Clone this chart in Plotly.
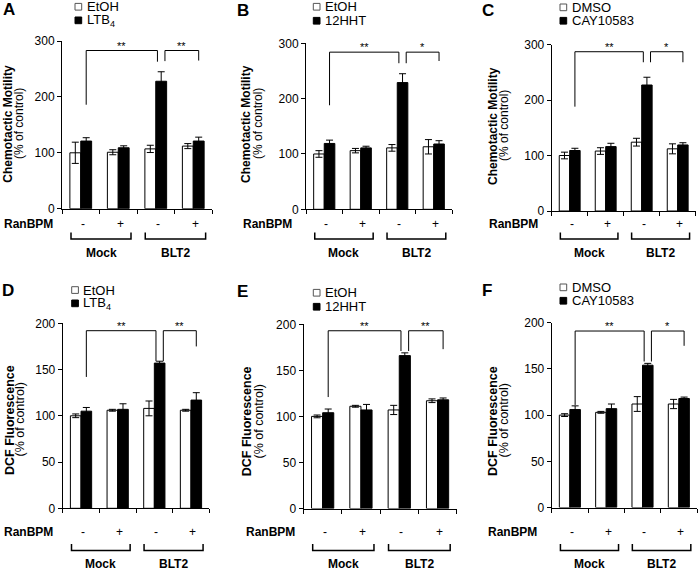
import plotly.graph_objects as go

W, H = 700, 569

# ---------------- data ----------------
groups = [1, 2, 3, 4]
ranbpm_labels = ["-", "+", "-", "+"]
cell_labels = ["Mock", "BLT2"]
panel_letters = ["A", "B", "C", "D", "E", "F"]
vehicle_names = ["EtOH", "EtOH", "DMSO", "EtOH", "EtOH", "DMSO"]
agonist_names = ["LTB<sub>4</sub>", "12HHT", "CAY10583", "LTB<sub>4</sub>", "12HHT", "CAY10583"]
y_titles = ["Chemotactic Motility"] * 3 + ["DCF Fluorescence"] * 3
y_subtitle = "(% of control)"
y_ticks_motility = [0, 100, 200, 300]
y_ticks_dcf = [0, 50, 100, 150, 200]

veh_A = [100, 101, 107, 112]
veh_A_err = [19, 4.5, 6.5, 4.5]
ago_A = [121, 109, 228, 121]
ago_A_err = [6, 3.5, 17, 7]

veh_B = [100, 106, 111, 113]
veh_B_err = [6, 4, 6, 13]
ago_B = [119, 111, 229, 118]
ago_B_err = [6, 3, 16, 6]

veh_C = [100, 108, 124, 112]
veh_C_err = [6, 6, 7, 9]
ago_C = [109, 116, 227, 119]
ago_C_err = [4, 6, 14, 4]

veh_D = [100, 106, 108, 106]
veh_D_err = [2, 1, 8, 1]
ago_D = [105, 107, 157, 117]
ago_D_err = [4, 6, 2, 8]

veh_E = [100, 111, 107, 117]
veh_E_err = [1.5, 1, 5, 2]
ago_E = [104, 107, 166, 118]
ago_E_err = [4, 6, 3, 2]

veh_F = [100, 103, 112, 112]
veh_F_err = [1.5, 1, 8, 5]
ago_F = [106, 107, 154, 118]
ago_F_err = [4, 5, 2, 1.5]

# significance brackets: [top, left-leg end, right-leg end]
sig_from = [1, 3]
sig_to = [3, 4]
sig_A = [[283, 186, 263], [283, 264, 265]]
sig_B = [[284, 188, 264], [284, 264, 268]]
sig_C = [[287, 188, 268], [287, 268, 268]]
sig_D = [[192, 142, 159], [192, 159, 175]]
sig_E = [[193, 121, 171], [193, 171, 173]]
sig_F = [[191, 111, 158], [191, 158, 175]]
sig_lab_A = ["**", "**"]
sig_lab_B = ["**", "*"]
sig_lab_C = ["**", "*"]
sig_lab_D = ["**", "**"]
sig_lab_E = ["**", "**"]
sig_lab_F = ["**", "*"]

veh_all = [veh_A, veh_B, veh_C, veh_D, veh_E, veh_F]
veh_err_all = [veh_A_err, veh_B_err, veh_C_err, veh_D_err, veh_E_err, veh_F_err]
ago_all = [ago_A, ago_B, ago_C, ago_D, ago_E, ago_F]
ago_err_all = [ago_A_err, ago_B_err, ago_C_err, ago_D_err, ago_E_err, ago_F_err]
sig_all = [sig_A, sig_B, sig_C, sig_D, sig_E, sig_F]
sig_lab_all = [sig_lab_A, sig_lab_B, sig_lab_C, sig_lab_D, sig_lab_E, sig_lab_F]
y_ticks_all = [y_ticks_motility] * 3 + [y_ticks_dcf] * 3

# ---------------- geometry (pixels) ----------------
geo = [
    dict(x0=62, x1=212, yt=41, yb=208.7),
    dict(x0=306, x1=452, yt=43.3, yb=209.3),
    dict(x0=551.7, x1=695.7, yt=44.5, yb=211),
    dict(x0=62.7, x1=209.3, yt=323.3, yb=508.3),
    dict(x0=303.5, x1=456.7, yt=324.3, yb=508.5),
    dict(x0=551.7, x1=697, yt=322.7, yb=507.5),
]
row_text = [
    dict(pm=224, bt=232.5, bb=239, cell=252.7),
    dict(pm=532, bt=544, bb=550.5, cell=563.5),
]
ranbpm_x = [28, 267.5, 513, 28, 270, 512.5]
letter_pos = [(8.5, 10), (243, 10.5), (487.5, 10.5), (7.5, 290.5), (242.5, 291.5), (487, 290.5)]
ytitle_pos = [(7.7, 19, 124), (246, 258, 124), (493, 504, 126),
              (10, 19.5, 420), (246.7, 258, 421.5), (493, 503.5, 421)]
legend_pos = [(75, 6.7, 20.3), (313.3, 6.7, 20.7), (560, 7.3, 20.7),
              (71.7, 290, 303.3), (313.3, 292.7, 306.7), (560, 287.3, 300.7)]

FONT = "Arial, Liberation Sans, Helvetica, sans-serif"
BW = 0.29  # bar width in category units


def px(x):
    return x / W


def py(y):
    return 1 - y / H


fig = go.Figure()
shapes = []
annotations = []

for i in range(6):
    n = "" if i == 0 else str(i + 1)
    xa, ya = "x" + n, "y" + n
    g = geo[i]
    rt = row_text[0] if i < 3 else row_text[1]
    yt = y_ticks_all[i]

    fig.add_trace(go.Bar(
        x=groups, y=veh_all[i], xaxis=xa, yaxis=ya, name=vehicle_names[i],
        marker=dict(color="white", line=dict(color="black", width=1)),
        error_y=dict(type="data", array=veh_err_all[i], color="black", thickness=1, width=3.5),
        showlegend=False, offsetgroup="veh",
    ))
    fig.add_trace(go.Bar(
        x=groups, y=ago_all[i], xaxis=xa, yaxis=ya, name=agonist_names[i],
        marker=dict(color="black", line=dict(color="black", width=1)),
        error_y=dict(type="data", array=ago_err_all[i], color="black", thickness=1, width=3.5),
        showlegend=False, offsetgroup="ago",
    ))

    fig.update_layout(**{
        ("xaxis" + n): dict(
            domain=[px(g["x0"]), px(g["x1"])], anchor=ya, range=[0.5, 4.5],
            tickvals=[0.5, 1.5, 2.5, 3.5, 4.5], ticks="outside", ticklen=4, tickwidth=1,
            tickcolor="black", showticklabels=False, showline=True, linecolor="black",
            linewidth=1, showgrid=False, zeroline=False, automargin=False, fixedrange=True,
        ),
        ("yaxis" + n): dict(
            domain=[py(g["yb"]), py(g["yt"])], anchor=xa, range=[0, yt[-1]],
            tickvals=yt, ticks="outside", ticklen=4, tickwidth=1, tickcolor="black",
            tickfont=dict(family=FONT, size=12, color="black"), showline=True,
            linecolor="black", linewidth=1, showgrid=False, zeroline=False,
            automargin=False, fixedrange=True,
        ),
    })

    # significance brackets
    for k in range(2):
        top, lend, rend = sig_all[i][k]
        xl = sig_from[k] + BW / 2 + (0.0 if k == 0 else 0.1)
        xr = sig_to[k] + BW / 2 - (0.1 if k == 0 else 0.0)
        shapes.append(dict(
            type="path", xref=xa, yref=ya,
            path=f"M {xl},{lend} L {xl},{top} L {xr},{top} L {xr},{rend}",
            line=dict(color="black", width=1),
        ))
        annotations.append(dict(
            x=(xl + xr) / 2, y=top, xref=xa, yref=ya, text=sig_lab_all[i][k],
            showarrow=False, xanchor="center", yanchor="middle", yshift=5,
            font=dict(family=FONT, size=11, color="black"),
        ))

    # RanBPM -/+
    for gi, lab in zip(groups, ranbpm_labels):
        annotations.append(dict(
            x=gi + 0.05, y=py(rt["pm"]), xref=xa, yref="paper", text=lab,
            showarrow=False, xanchor="center", yanchor="middle",
            font=dict(family=FONT, size=12, color="black"),
        ))
    annotations.append(dict(
        x=px(ranbpm_x[i]), y=py(rt["pm"]), xref="paper", yref="paper", text="<b>RanBPM</b>",
        showarrow=False, xanchor="center", yanchor="middle",
        font=dict(family=FONT, size=12, color="black"),
    ))
    # cell type brackets
    spans = [(0.74, 2.34), (2.72, 4.33)]
    for (s0, s1), lab in zip(spans, cell_labels):
        shapes.append(dict(
            type="path", xref=xa, yref="paper",
            path=f"M {s0},{py(rt['bt'])} L {s0},{py(rt['bb'])} L {s1},{py(rt['bb'])} L {s1},{py(rt['bt'])}",
            line=dict(color="black", width=1.5),
        ))
        annotations.append(dict(
            x=(s0 + s1) / 2, y=py(rt["cell"]), xref=xa, yref="paper", text="<b>" + lab + "</b>",
            showarrow=False, xanchor="center", yanchor="middle",
            font=dict(family=FONT, size=12, color="black"),
        ))

    # panel letter
    lx, ly = letter_pos[i]
    annotations.append(dict(
        x=px(lx), y=py(ly), xref="paper", yref="paper", text="<b>" + panel_letters[i] + "</b>",
        showarrow=False, xanchor="center", yanchor="middle",
        font=dict(family=FONT, size=17, color="black"),
    ))

    # y titles
    tx1, tx2, tyc = ytitle_pos[i]
    fsz = 12 if i < 3 else 12.5
    annotations.append(dict(
        x=px(tx1), y=py(tyc), xref="paper", yref="paper", text="<b>" + y_titles[i] + "</b>",
        textangle=-90, showarrow=False, xanchor="center", yanchor="middle",
        font=dict(family=FONT, size=fsz, color="black"),
    ))
    annotations.append(dict(
        x=px(tx2), y=py(tyc), xref="paper", yref="paper", text=y_subtitle,
        textangle=-90, showarrow=False, xanchor="center", yanchor="middle",
        font=dict(family=FONT, size=fsz, color="black"),
    ))

    # legend
    lgx, lgy1, lgy2 = legend_pos[i]
    for yy, col, name in [(lgy1, "white", vehicle_names[i]), (lgy2, "black", agonist_names[i])]:
        shapes.append(dict(
            type="rect", xref="paper", yref="paper",
            x0=px(lgx), x1=px(lgx + 6.7), y0=py(yy + 3.4), y1=py(yy - 3.3),
            fillcolor=col, line=dict(color="#555555" if col == "white" else "black", width=1),
        ))
        annotations.append(dict(
            x=px(lgx + 9.5), y=py(yy), xref="paper", yref="paper", text=name,
            showarrow=False, xanchor="left", yanchor="middle",
            font=dict(family=FONT, size=13, color="black"),
        ))

fig.update_layout(
    width=W, height=H, margin=dict(l=0, r=0, t=0, b=0),
    paper_bgcolor="white", plot_bgcolor="white",
    barmode="group", bargap=0.42, bargroupgap=0,
    shapes=shapes, annotations=annotations, showlegend=False,
    font=dict(family=FONT, color="black"),
)

fig.write_html("out.html", config={"displayModeBar": False},
               post_script="document.body.style.margin='0px';document.body.style.padding='0px';")
